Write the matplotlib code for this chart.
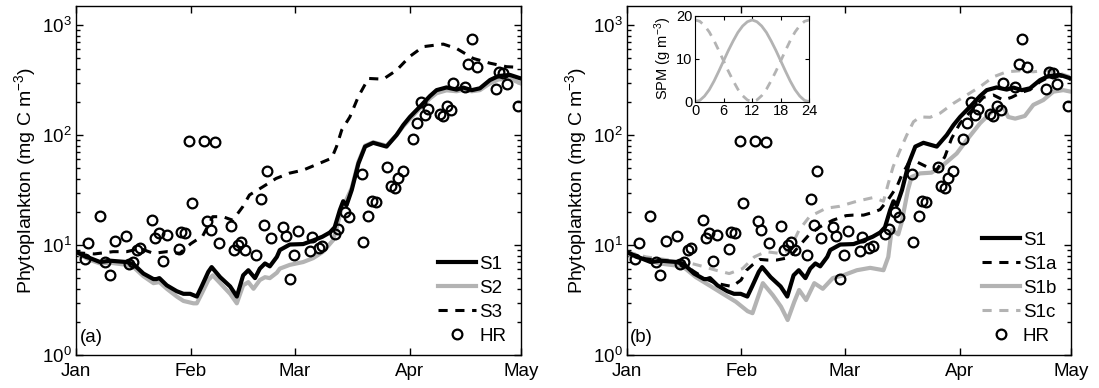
import matplotlib
matplotlib.use('Agg')
import matplotlib.pyplot as plt
from matplotlib.ticker import LogLocator, NullFormatter, LogFormatterSciNotation

plt.rcParams['font.family'] = ['Liberation Sans', 'DejaVu Sans']
plt.rcParams['mathtext.fontset'] = 'custom'
plt.rcParams['mathtext.rm'] = 'Liberation Sans'
plt.rcParams['mathtext.it'] = 'Liberation Sans:italic'
plt.rcParams['mathtext.bf'] = 'Liberation Sans:bold'

# ---------------- data (day of year, 0 = 1 Jan) ----------------
month_ticks = [0, 31, 59, 90, 120]
month_labels = ['Jan', 'Feb', 'Mar', 'Apr', 'May']

hr_day = [2.3, 3.2, 6.4, 7.9, 9.1, 10.5, 13.5, 14.4, 15.5, 16.5, 17.4, 20.5, 21.3, 22.3,
          23.4, 24.5, 27.7, 28.2, 29.4, 30.6, 31.4, 34.6, 35.4, 36.4, 37.6, 38.5, 41.8,
          42.6, 43.6, 44.5, 45.6, 48.7, 49.9, 50.6, 51.5, 52.6, 55.8, 56.7, 57.7, 58.7,
          59.8, 63.1, 63.6, 65.6, 66.5, 69.9, 70.8, 72.6, 73.7, 77.1, 77.5, 78.9, 79.8,
          81.0, 84.0, 84.9, 86.1, 86.9, 88.2, 91.0, 91.9, 93.0, 94.2, 94.9, 98.2, 99.1,
          100.0, 101.2, 101.8, 105.0, 105.9, 106.9, 108.1, 113.3, 114.2, 115.3, 116.2, 119.2]
hr_val = [7.4, 10.4, 18.2, 7.0, 5.3, 10.9, 12.1, 6.7, 7.0, 9.1, 9.4, 17.0, 11.6, 12.8,
          7.2, 12.3, 9.2, 13.0, 12.8, 88.7, 24.2, 88.7, 16.6, 13.8, 87.0, 10.5, 14.9,
          9.0, 9.9, 10.6, 9.0, 8.1, 26.3, 15.2, 47.4, 11.6, 14.6, 12.1, 4.9, 8.1,
          13.5, 8.8, 11.8, 9.3, 9.7, 12.5, 14.0, 20.1, 17.9, 44.0, 10.7, 18.5, 25.3,
          24.4, 50.8, 34.6, 32.7, 40.4, 47.1, 91.4, 128, 201, 152, 171, 155, 149,
          185, 169, 295, 271, 442, 746, 412, 262, 376, 364, 291, 184]

s1_day = [0, 2.7, 3.8, 6.5, 9.2, 13.7, 15.5, 18.2, 20.9, 21.7, 22.5, 24.5, 27.2, 29, 30.8,
          32.6, 33.9, 35.7, 36.6, 38.9, 41.6, 43.4, 45.1, 46.5, 48.3, 49.6, 51, 52.3, 54.2,
          55, 57.7, 61.3, 64, 66.5, 68.5, 69.8, 71.2, 72.1, 73, 74.4, 76.2, 78, 80.2, 83.8,
          86.5, 88.3, 90.1, 92.8, 95.5, 97.3, 100, 102.7, 104.5, 106.8, 109, 111.7, 114,
          117.1, 120]
s1_val = [8.7, 7.8, 7.6, 7.0, 7.2, 7.0, 6.7, 5.5, 4.9, 4.9, 5.0, 4.3, 3.8, 3.6, 3.6,
          3.4, 4.2, 5.7, 6.3, 5.1, 4.2, 3.4, 5.3, 5.9, 5.0, 6.1, 6.8, 6.4, 7.8,
          9.0, 10.1, 10.2, 11.0, 11.9, 13.0, 14.5, 20.8, 25, 23, 31.6, 55, 78.5, 85, 78.5,
          100, 123, 146, 181, 226, 256, 271, 259, 270, 256, 266, 316, 344,
          352, 327]

s2_day = [0, 3.8, 6.5, 9.2, 13.7, 15.5, 18.2, 20.9, 22.5, 24.5, 27.2, 29, 31.7, 32.6, 33.9,
          35.7, 36.9, 38.9, 41.6, 43.4, 45.1, 46.5, 47.9, 49.6, 51, 52.3, 54.2, 55, 57.7,
          61.3, 64, 66.7, 69.4, 70.5, 71.7, 73, 74.4, 76.2, 78, 80.2, 83.8, 86.5, 88.3,
          90.1, 92.8, 95.5, 97.3, 100, 102.7, 104.5, 106.8, 109, 111.7, 114, 117.1, 120]
s2_val = [8.5, 7.3, 6.8, 6.9, 6.6, 6.3, 5.2, 4.5, 4.6, 4.0, 3.4, 3.1, 2.95, 2.95, 3.6,
          4.8, 5.3, 4.5, 3.6, 2.95, 4.3, 4.6, 4.0, 4.8, 5.1, 5.0, 5.6, 6.1, 6.6,
          7.0, 7.6, 8.7, 11.1, 15, 22, 26, 33, 57, 80, 86, 80, 100, 120,
          140, 175, 215, 240, 255, 250, 258, 250, 256, 295, 320, 325, 295]

s3_day = [0, 5, 10, 13.7, 17.3, 20.9, 24.5, 28, 31, 34.2, 36.9, 39.6, 42.3, 45, 46.8, 50.4,
          54, 57.6, 61.3, 65.8, 69, 70.3, 71.7, 73.9, 76.2, 78.9, 82.9, 86.5, 90.1, 93.7,
          99.1, 102.7, 107.2, 111.7, 116.2, 120]
s3_val = [8.5, 8.3, 8.7, 8.7, 9.3, 8.4, 8.7, 8.4, 10.3, 12.1, 18.1, 18.1, 16.8, 22.3, 28.5,
          33.8, 40.3, 45, 48, 55.5, 61.6, 78.5, 111, 146, 224, 327, 322, 388, 519, 636,
          671, 612, 497, 450, 418, 412]

s1a_day = [0, 5, 10, 15, 18, 21, 24, 26.8, 28.5, 30.9, 32.4, 34, 36, 38, 40.5, 44, 46.6,
           49.4, 52, 55.7, 59.3, 61.2, 64, 66.6, 68.5, 70.7, 73, 74.3, 76.1, 78.4, 81.1,
           83.8, 86, 87.8, 90.1, 93.2, 96.4, 99.1, 101.8, 104, 106.8, 109, 111.7, 114,
           117.1, 120]
s1a_val = [8.5, 7.5, 7.2, 6.8, 5.8, 5.0, 4.5, 4.3, 4.2, 4.8, 5.9, 6.6, 7.4, 7.3, 7.3, 7.7,
           9.8, 12.5, 14.5, 16.8, 18.5, 18.7, 18.7, 19.8, 21, 26, 33.8, 43, 55, 57, 51.4,
           48, 63.6, 93, 128, 168, 220, 231, 208, 220, 245, 258, 305, 335, 345, 320]

s1b_day = [0, 8.8, 15.1, 18.7, 22.3, 26, 29.5, 32.7, 34, 35.8, 36.8, 39.5, 41.7, 43.5, 45.3,
           46.6, 48.5, 50.7, 53, 55.7, 58.5, 62.2, 65.8, 69.4, 70.7, 71.6, 73.4, 74.3, 76,
           77, 79.3, 82.4, 85.6, 89.2, 91.9, 95.5, 99.1, 101.8, 103.1, 105, 107.6, 109.9,
           112.6, 115.3, 118, 120]
s1b_val = [8.3, 6.8, 6.4, 5.1, 4.3, 3.6, 3.05, 2.5, 2.4, 3.6, 4.5, 3.5, 2.75, 2.08, 3.05,
           3.9, 3.16, 4.5, 4.0, 5.0, 5.3, 5.9, 6.2, 5.9, 7.8, 13.7, 12.5, 16, 31.6,
           41.6, 44.8, 45.5, 53.5, 68, 90, 128, 168, 181, 146, 141, 149, 188,
           208, 248, 256, 248]

s1c_day = [0, 5.2, 11.5, 16, 20.5, 24.1, 27.7, 31.3, 34.5, 37.6, 41.2, 44, 46.6, 49.4, 53.9,
           57.6, 62.2, 66.6, 69.4, 70.7, 72, 73.9, 75.7, 77.5, 79.3, 82, 84.7, 88.3, 91.9,
           95.5, 99.1, 102.7, 106.3, 109.9, 113.5, 117.1, 120]
s1c_val = [8.7, 7.8, 7.3, 7.0, 6.4, 5.9, 5.5, 6.1, 7.8, 8.7, 8.4, 9.0, 13.7, 18.1, 21.6,
           22.5, 25, 27, 25, 36.3, 51.4, 73, 100, 132, 146, 145, 158, 194, 231,
           275, 338, 376, 384, 376, 388, 364, 338]

# inset: SPM over the tidal cycle (hours)
spm_hour = list(range(0, 25))
spm_s1b = [0, 0.3, 1.3, 2.8, 4.8, 7.1, 9.5, 11.9, 14.1, 16.1, 17.6, 18.6, 19.0,
           18.6, 17.6, 16.1, 14.1, 11.9, 9.5, 7.1, 4.8, 2.8, 1.3, 0.3, 0]
spm_s1c = [19.0, 18.7, 17.7, 16.2, 14.2, 11.9, 9.5, 7.1, 4.9, 2.9, 1.4, 0.4, 0,
           0.4, 1.4, 2.9, 4.9, 7.1, 9.5, 11.9, 14.2, 16.2, 17.7, 18.7, 19.0]

GRAY = '0.7'
FS = 13.5

fig = plt.figure(figsize=(10.99, 3.88), dpi=100)
W, H = 1099.0, 388.0
axA = fig.add_axes([76 / W, 33 / H, 444.7 / W, 349 / H])
axB = fig.add_axes([626.7 / W, 33 / H, 444 / W, 349 / H])


def style_main(ax, letter):
    ax.set_yscale('log')
    ax.set_xlim(0, 120)
    ax.set_ylim(1, 1490)
    ax.set_xticks(month_ticks)
    ax.set_xticklabels(month_labels)
    ax.yaxis.set_major_locator(LogLocator(base=10, numticks=10))
    ax.yaxis.set_major_formatter(LogFormatterSciNotation())
    ax.yaxis.set_minor_locator(LogLocator(base=10, subs=range(2, 10), numticks=20))
    ax.yaxis.set_minor_formatter(NullFormatter())
    ax.tick_params(which='both', direction='in', top=True, right=True, labelsize=FS, width=1.0)
    ax.tick_params(which='major', length=5)
    ax.tick_params(which='minor', length=3)
    ax.tick_params(axis='x', pad=6)
    ax.tick_params(axis='y', pad=3)
    for sp in ax.spines.values():
        sp.set_linewidth(1.0)
    ax.set_ylabel('Phytoplankton (mg C m$^{-3}$)', fontsize=14, labelpad=3)
    ax.text(0.008, 0.025, letter, transform=ax.transAxes, fontsize=FS, ha='left', va='bottom')


lw = 3.0
leg_kw = dict(loc='lower right', frameon=False, fontsize=FS, borderpad=0,
              borderaxespad=0, handlelength=2.05, handletextpad=0.15,
              labelspacing=0.36, numpoints=1)

# panel (a)
axA.plot(s2_day, s2_val, color=GRAY, lw=lw, label='S2')
axA.plot(s1_day, s1_val, color='black', lw=lw, label='S1')
axA.plot(s3_day, s3_val, color='black', lw=2.2, dashes=(3, 2.5), label='S3')
axA.plot(hr_day, hr_val, 'o', mfc='none', mec='black', mew=1.6, ms=7, label='HR')
style_main(axA, '(a)')
h, l = axA.get_legend_handles_labels()
order = [1, 0, 2, 3]
axA.legend([h[i] for i in order], [l[i] for i in order],
           bbox_to_anchor=(0.967, 0.03), **leg_kw)

# panel (b)
axB.plot(s1b_day, s1b_val, color=GRAY, lw=lw, label='S1b')
axB.plot(s1c_day, s1c_val, color=GRAY, lw=2.2, dashes=(3, 2.5), label='S1c')
axB.plot(s1_day, s1_val, color='black', lw=lw, label='S1')
axB.plot(s1a_day, s1a_val, color='black', lw=2.2, dashes=(3, 2.5), label='S1a')
axB.plot(hr_day, hr_val, 'o', mfc='none', mec='black', mew=1.6, ms=7, label='HR')
style_main(axB, '(b)')
h, l = axB.get_legend_handles_labels()
order = [2, 3, 0, 1, 4]
axB.legend([h[i] for i in order], [l[i] for i in order],
           bbox_to_anchor=(0.968, 0.03), **leg_kw)

# inset
axI = fig.add_axes([695 / W, (H - 101.7) / H, 114.3 / W, 86 / H])
axI.plot(spm_hour, spm_s1b, color=GRAY, lw=2.0)
axI.plot(spm_hour, spm_s1c, color=GRAY, lw=2.0, dashes=(3, 2.5))
axI.set_xlim(0, 24)
axI.set_ylim(0, 20)
axI.set_xticks([0, 6, 12, 18, 24])
axI.set_yticks([0, 10, 20])
axI.tick_params(direction='in', top=True, right=True, labelsize=10.5, length=3, pad=2, width=0.8)
axI.set_ylabel('SPM (g m$^{-3}$)', fontsize=10.5, labelpad=1)
for sp in axI.spines.values():
    sp.set_linewidth(0.8)

fig.savefig('out.png', dpi=100)
